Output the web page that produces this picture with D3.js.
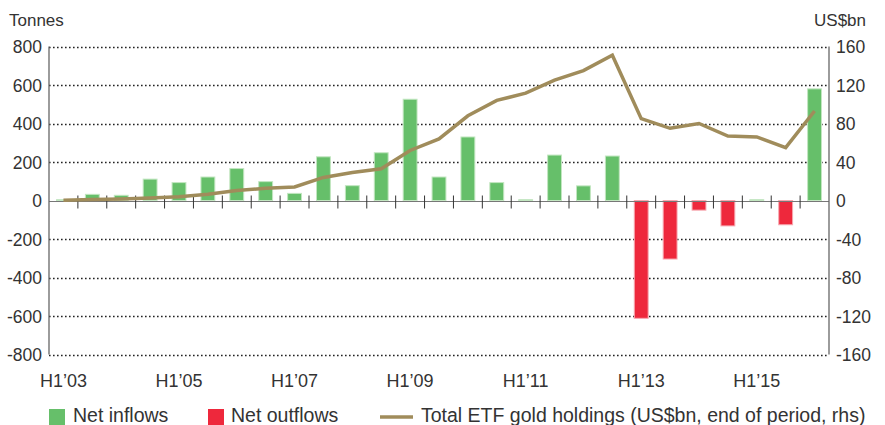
<!DOCTYPE html>
<html>
<head>
<meta charset="utf-8">
<script src="https://cdn.jsdelivr.net/npm/d3@7"></script>
<style>
  body { margin: 0; background: #fff; }
  svg text { font-family: "Liberation Sans", Arial, sans-serif; fill: #333; }
</style>
</head>
<body>
<div id="chart"></div>
<script>
// half-year periods H1'03 .. H1'16
var periods = ["H1'03","H2'03","H1'04","H2'04","H1'05","H2'05","H1'06","H2'06","H1'07","H2'07",
  "H1'08","H2'08","H1'09","H2'09","H1'10","H2'10","H1'11","H2'11","H1'12","H2'12",
  "H1'13","H2'13","H1'14","H2'14","H1'15","H2'15","H1'16"];
// net flows, tonnes
var flows = [4, 32, 27, 111, 93, 122, 166, 98, 37, 227,
  77, 248, 526, 122, 330, 93, 4, 236, 76, 231,
  -612, -304, -50, -132, 4, -126, 580];
// total ETF gold holdings, US$bn (rhs)
var holdings = [0.3, 1, 1.5, 2.5, 4, 6.5, 10.5, 12.7, 14, 24,
  29, 33, 52, 64, 88, 104, 111.5, 125, 135, 151,
  85, 75, 80, 67, 66, 55, 93];
var xLabels = ["H1'03","H1'05","H1'07","H1'09","H1'11","H1'13","H1'15"];
var leftTicks = [-800,-600,-400,-200,0,200,400,600,800];
var rightTicks = [-160,-120,-80,-40,0,40,80,120,160];

var w = 885, h = 425;
var plotLeft = 49, plotRight = 829, plotTop = 46.5, plotBottom = 354.5;

var svg = d3.select("#chart").append("svg")
  .attr("width", w).attr("height", h);

var x = d3.scaleBand().domain(periods).range([plotLeft, plotRight]).paddingInner(0.52).paddingOuter(0.26);
var xb = d3.scaleBand().domain(periods).range([plotLeft, plotRight]);
var y = d3.scaleLinear().domain([-800, 800]).range([plotBottom, plotTop]);
var y2 = d3.scaleLinear().domain([-160, 160]).range([plotBottom, plotTop]);

// dotted gridlines
svg.append("g").selectAll("line")
  .data(leftTicks.filter(function(d) { return d !== 0; }))
  .enter().append("line")
  .attr("x1", plotLeft).attr("x2", plotRight)
  .attr("y1", function(d) { return Math.round(y(d)) + 0.5; })
  .attr("y2", function(d) { return Math.round(y(d)) + 0.5; })
  .attr("stroke", "#222").attr("stroke-width", 1.6)
  .attr("stroke-dasharray", "1.6,2.4");

// bars
svg.append("g").selectAll("rect")
  .data(flows)
  .enter().append("rect")
  .attr("x", function(d, i) { return x(periods[i]); })
  .attr("width", x.bandwidth())
  .attr("y", function(d) { return y(Math.max(0, d)); })
  .attr("height", function(d) { return Math.abs(y(d) - y(0)); })
  .attr("fill", function(d) { return d >= 0 ? "#66bf6a" : "#ee283c"; })
  .attr("stroke", function(d) { return d >= 0 ? "#c2e6c0" : "#f7a8b0"; })
  .attr("stroke-width", 1);

// zero line with category ticks
var zy = Math.round(y(0)) + 0.5;
svg.append("line")
  .attr("x1", plotLeft).attr("x2", plotRight).attr("y1", zy).attr("y2", zy)
  .attr("stroke", "#777").attr("stroke-width", 1.2);
svg.append("g").selectAll("line")
  .data(periods.slice(1))
  .enter().append("line")
  .attr("x1", function(d) { return xb(d); })
  .attr("x2", function(d) { return xb(d); })
  .attr("y1", zy - 6).attr("y2", zy + 7)
  .attr("stroke", "#333").attr("stroke-width", 1);

// axes lines
svg.append("line").attr("x1", plotLeft).attr("x2", plotLeft).attr("y1", plotTop).attr("y2", plotBottom)
  .attr("stroke", "#666").attr("stroke-width", 1.3);
svg.append("line").attr("x1", plotRight).attr("x2", plotRight).attr("y1", plotTop).attr("y2", plotBottom)
  .attr("stroke", "#666").attr("stroke-width", 1.3);

// holdings line
var line = d3.line()
  .x(function(d, i) { return xb(periods[i]) + xb.bandwidth() / 2; })
  .y(function(d) { return y2(d); });
svg.append("path")
  .datum(holdings)
  .attr("d", line)
  .attr("fill", "none")
  .attr("stroke", "#a08c5b")
  .attr("stroke-width", 3.5)
  .attr("stroke-linejoin", "miter");

// tick labels
svg.append("g").selectAll("text")
  .data(leftTicks).enter().append("text")
  .attr("x", 42).attr("y", function(d) { return y(d) + 6.5; })
  .attr("text-anchor", "end").attr("font-size", 17.5)
  .text(function(d) { return d; });
svg.append("g").selectAll("text")
  .data(rightTicks).enter().append("text")
  .attr("x", 836).attr("y", function(d) { return y2(d) + 6.5; })
  .attr("font-size", 17.5)
  .text(function(d) { return d; });
svg.append("g").selectAll("text")
  .data(xLabels).enter().append("text")
  .attr("x", function(d) { return xb(d) + xb.bandwidth() / 2; })
  .attr("y", 387).attr("text-anchor", "middle").attr("font-size", 18)
  .text(function(d) { return d.replace("'", "\u2019"); });

svg.append("text").attr("x", 9).attr("y", 26).attr("font-size", 17).text("Tonnes");
svg.append("text").attr("x", 866).attr("y", 26).attr("font-size", 17)
  .attr("text-anchor", "end").text("US$bn");

// legend
var lg = svg.append("g");
lg.append("rect").attr("x", 49).attr("y", 409).attr("width", 16).attr("height", 16).attr("fill", "#66bf6a");
lg.append("text").attr("x", 73).attr("y", 422).attr("font-size", 19.5).text("Net inflows");
lg.append("rect").attr("x", 208).attr("y", 409).attr("width", 16).attr("height", 16).attr("fill", "#ee283c");
lg.append("text").attr("x", 231).attr("y", 422).attr("font-size", 19.5).text("Net outflows");
lg.append("line").attr("x1", 380).attr("x2", 413).attr("y1", 417).attr("y2", 417)
  .attr("stroke", "#a08c5b").attr("stroke-width", 3.5);
lg.append("text").attr("x", 421).attr("y", 422).attr("font-size", 19.5)
  .text("Total ETF gold holdings (US$bn, end of period, rhs)");
</script>
</body>
</html>
